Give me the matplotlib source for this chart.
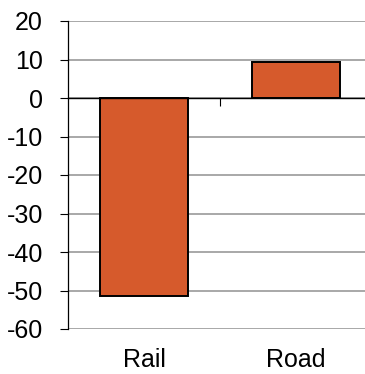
import matplotlib.pyplot as plt

categories = ["Rail", "Road"]
values = [-51.4, 9.4]
y_ticks = [-60, -50, -40, -30, -20, -10, 0, 10, 20]

plt.rcParams['font.family'] = ['Liberation Sans', 'DejaVu Sans']
plt.rcParams['axes.unicode_minus'] = False

fig = plt.figure(figsize=(3.65, 3.74), dpi=100)
ax = fig.add_axes([68 / 365, 45 / 374, 304 / 365, 308 / 374])

x = list(range(len(categories)))
ax.bar(x, values, width=0.58, color="#D65A2C", edgecolor="black", linewidth=1.4, zorder=3)

ax.set_xlim(-0.5, len(categories) - 0.5)
ax.set_ylim(-60, 20)
ax.set_yticks(y_ticks)
ax.yaxis.grid(True, color="#999999", linewidth=1.2, zorder=0)
ax.tick_params(axis="y", direction="out", length=6, width=0.8, pad=12, labelsize=18)

for s in ["top", "right"]:
    ax.spines[s].set_visible(False)
ax.spines["left"].set_linewidth(0.9)

# category axis sits on the zero line
ax.spines["bottom"].set_position(("data", 0))
ax.spines["bottom"].set_linewidth(1.0)
ax.spines["bottom"].set_zorder(4)
ax.set_xticks([])
ax.set_xticks([i + 0.5 for i in x[:-1]], minor=True)
ax.tick_params(axis="x", which="minor", direction="out", length=6, width=0.8, labelbottom=False)

sec = ax.secondary_xaxis(0.0)
sec.set_xticks(x)
sec.set_xticklabels(categories)
sec.tick_params(length=0, pad=14, labelsize=18)
sec.spines["bottom"].set_visible(False)

fig.savefig("out.png", dpi=100)
